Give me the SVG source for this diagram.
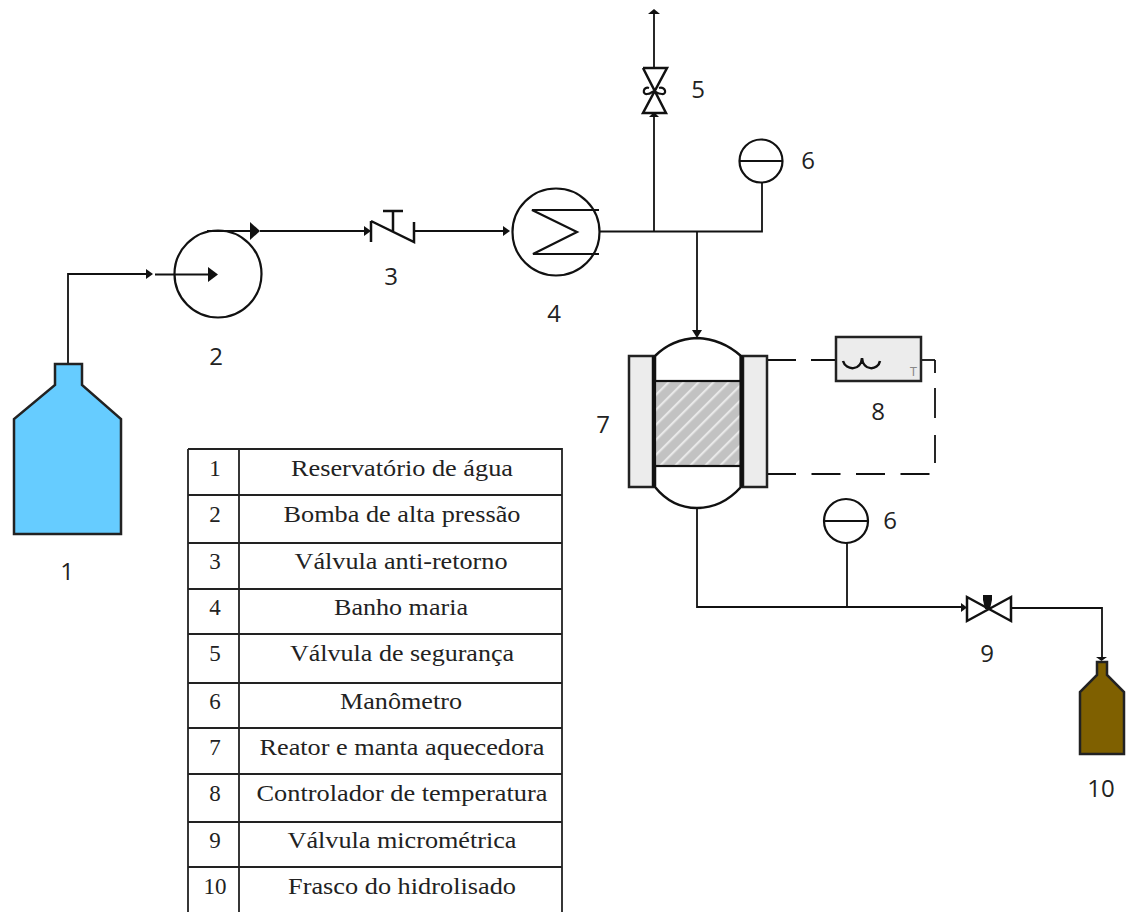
<svg xmlns="http://www.w3.org/2000/svg" width="1126" height="912" viewBox="0 0 1126 912">
<style>
.l{fill:none;stroke:#111;stroke-width:1.8}
.s{fill:none;stroke:#111;stroke-width:2.2}
.n{font-family:"Open Sans","Noto Sans",sans-serif;font-size:24px;fill:#222;text-anchor:middle}
.t{font-family:"Liberation Serif",serif;font-size:23px;fill:#222;text-anchor:middle}
.v{stroke:#111;stroke-width:2.5}
.a{fill:#111;stroke:none}
</style>
<defs>
<pattern id="h" width="10.600" height="10.600" patternUnits="userSpaceOnUse" patternTransform="rotate(45)">
<rect width="10.600" height="10.600" fill="#c2c2c2"/><rect width="2.200" height="10.600" x="0" fill="#e8e8e8"/>
</pattern>
</defs>
<rect width="1126" height="912" fill="#fff"/>
<g id="connectors">
<path class="l" d="M68 364V274H150"/><path class="a" d="M146 269l7 5-7 5z"/>
<path class="s" stroke-width="2.600" d="M155 274.500H208"/><path class="a" d="M208 267l10 7.500-10 7.500z"/>
<path class="s" stroke-width="2.600" d="M207 231H250"/><path class="a" d="M250 222l10 9-10 9z"/>
<path class="l" d="M260 231H366"/><path class="a" d="M364 226l7 5-7 5z"/>
<path class="l" d="M414 231H506"/><path class="a" d="M503 226l7 5-7 5z"/>
<path class="l" d="M600 231.500H762V183"/>
<path class="l" d="M654 231V116"/><path class="a" d="M649 117h10l-5-5z"/>
<path class="l" d="M654 68V12"/><path class="a" d="M648 14h12l-6-5z"/>
<path class="l" d="M697 231V332"/><path class="a" d="M692 330h10l-5 8z"/>
<path class="l" d="M697 508V607H962"/><path class="a" d="M961 603l6 4.500-6 4.500z"/>
<path class="l" d="M847 543V607"/>
<path class="l" d="M1011 608H1102V658"/><path class="a" d="M1096 657h11l-5.500 4z"/>
<path class="l" stroke-dasharray="29 15" d="M767 360H836"/>
<path class="l" d="M921 360H935"/>
<path class="l" stroke-dasharray="13 15 30 17 28 99" d="M935 360V474"/>
<path class="l" stroke-dasharray="29 15.500" d="M767 474H935"/>
</g>
<g id="n1"><path d="M55 364H82V385L121 419V534H14V419L55 385Z" fill="#66ccff" stroke="#222" stroke-width="2.500"/><text class="n" x="67" y="580">1</text></g>
<g id="n2"><circle class="s" cx="218" cy="274" r="43.500"/><text class="n" x="216" y="365">2</text></g>
<g id="n3"><path class="v" fill="none" d="M371 221V242M371 221L414 242V222M393 232V211M383 211H403"/><text class="n" x="391" y="285">3</text></g>
<g id="n4"><circle class="s" cx="556" cy="232" r="43.500"/><path class="s" stroke-width="2.500" d="M599 210H532L577 232L533 254H599"/><text class="n" x="554" y="322">4</text></g>
<g id="n5"><path class="v" fill="none" d="M643 68H667L643 113H666L643 68"/><path fill="none" stroke="#111" stroke-width="2.200" d="M649 88C643 86 642 95 647 94C650 94 652 92 654 91M659 88C666 86 667 95 662 94C658 94 656 92 654 91"/><text class="n" x="698" y="98">5</text></g>
<g id="n6a"><circle class="s" cx="761" cy="161" r="21.500" fill="#fff"/><path class="s" d="M740 161H783"/><text class="n" x="808" y="169">6</text></g>
<g id="n6b"><circle class="s" cx="846" cy="521" r="22" fill="#fff"/><path class="s" d="M824 521H868"/><text class="n" x="890" y="529">6</text></g>
<g id="n7">
<rect x="629" y="356" width="24" height="131" fill="#ececec" stroke="#222" stroke-width="2.500"/>
<rect x="743" y="356" width="24" height="131" fill="#ececec" stroke="#222" stroke-width="2.500"/>
<path d="M655 356Q672 339 697 338Q722 339 741 356V487Q722 508 697 508Q672 508 655 487Z" fill="#fff" stroke="#111" stroke-width="2.500"/>
<rect x="655" y="381" width="86" height="85" fill="url(#h)" stroke="#111" stroke-width="2.200"/>
<path d="M654 356V487M741.500 356V487" stroke="#111" stroke-width="4" fill="none"/>
<text class="n" x="603" y="433">7</text>
</g>
<g id="n8">
<rect x="836" y="337" width="85" height="44" fill="#ececec" stroke="#222" stroke-width="2.500"/>
<path d="M843 361C846 371 861 371 862 358C863 371 878 371 880 361" fill="none" stroke="#111" stroke-width="2.500"/>
<text x="913.500" y="376" font-family="Liberation Sans,sans-serif" font-size="12" fill="#888" text-anchor="middle">T</text>
<text class="n" x="878" y="420">8</text>
</g>
<g id="n9"><path class="v" fill="none" d="M967 597V621L1011 597V621Z"/><path class="a" d="M983 595h9v5l-2 9h-5l-2-9z"/><text class="n" x="987" y="662">9</text></g>
<g id="n10"><path d="M1097 662H1107V675L1124 692V754H1080V692L1097 675Z" fill="#7f6000" stroke="#222" stroke-width="2.500"/><text class="n" x="1101" y="797">10</text></g>
<g id="legend">
<path fill="none" stroke="#222" stroke-width="1.800" d="M188 449H562V912M188 449V912M239 449V912M188 495H562M188 543H562M188 589H562M188 634H562M188 683H562M188 728H562M188 774H562M188 822H562M188 867H562"/>
<text class="t" x="215" y="476">1</text><text class="t" x="402" y="476" textLength="222" lengthAdjust="spacingAndGlyphs">Reservatório de água</text>
<text class="t" x="215" y="522">2</text><text class="t" x="402" y="522" textLength="237" lengthAdjust="spacingAndGlyphs">Bomba de alta pressão</text>
<text class="t" x="215" y="569">3</text><text class="t" x="401" y="569" textLength="213" lengthAdjust="spacingAndGlyphs">Válvula anti-retorno</text>
<text class="t" x="215" y="615">4</text><text class="t" x="401" y="615" textLength="134" lengthAdjust="spacingAndGlyphs">Banho maria</text>
<text class="t" x="215" y="661">5</text><text class="t" x="402" y="661" textLength="224" lengthAdjust="spacingAndGlyphs">Válvula de segurança</text>
<text class="t" x="215" y="709">6</text><text class="t" x="401" y="709" textLength="122" lengthAdjust="spacingAndGlyphs">Manômetro</text>
<text class="t" x="215" y="755">7</text><text class="t" x="402" y="755" textLength="285" lengthAdjust="spacingAndGlyphs">Reator e manta aquecedora</text>
<text class="t" x="215" y="801">8</text><text class="t" x="402" y="801" textLength="291" lengthAdjust="spacingAndGlyphs">Controlador de temperatura</text>
<text class="t" x="215" y="848">9</text><text class="t" x="402" y="848" textLength="229" lengthAdjust="spacingAndGlyphs">Válvula micrométrica</text>
<text class="t" x="215" y="894">10</text><text class="t" x="402" y="894" textLength="228" lengthAdjust="spacingAndGlyphs">Frasco do hidrolisado</text>
</g>
</svg>
